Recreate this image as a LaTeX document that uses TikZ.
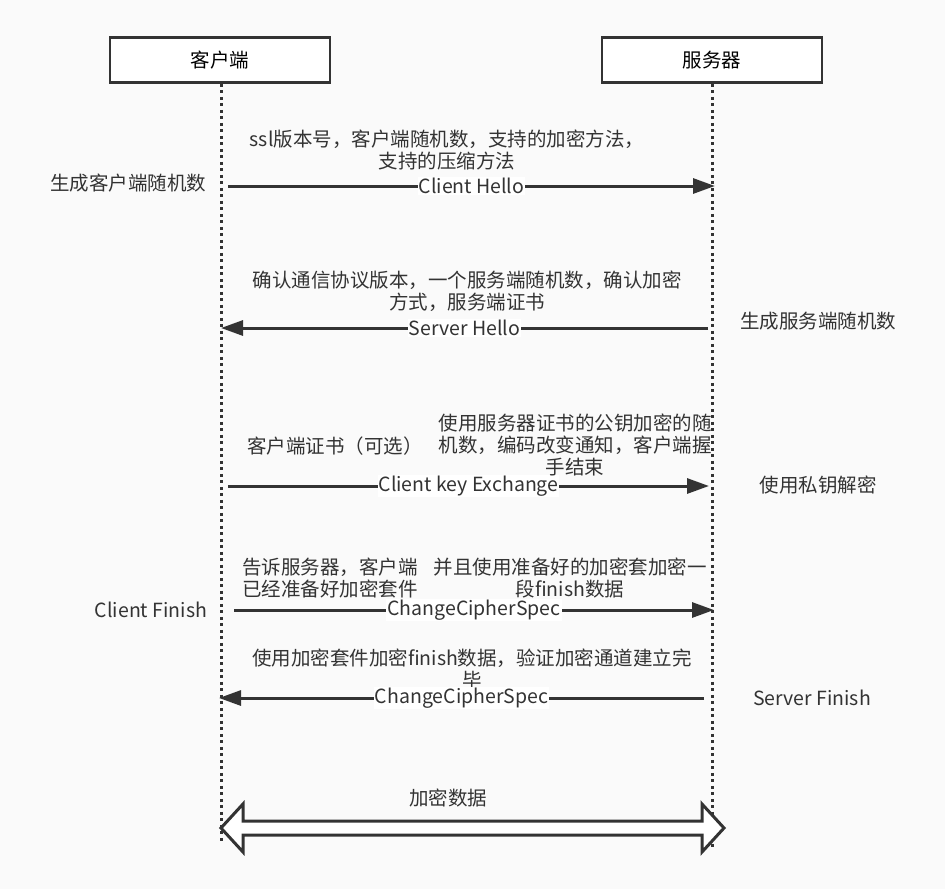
\documentclass[tikz,border=0pt]{standalone}
\usepackage{fontspec}
\setmainfont{Noto Sans CJK SC}
\usetikzlibrary{arrows.meta, calc}

\definecolor{ink}{RGB}{51,51,51}
\definecolor{paper}{RGB}{250,250,250}

\tikzset{
  actor/.style={draw=ink, line width=2.5pt, fill=white, minimum width=220pt, minimum height=45pt, inner sep=0pt},
  lifeline/.style={draw=ink, line width=3pt, dash pattern=on 3pt off 3.5pt},
  msg/.style={draw=ink, line width=3pt, -{Triangle[length=22pt,width=15pt]}},
  msglabel/.style={fill=white, inner sep=1pt, text=ink},
  note/.style={text=ink, align=center},
  bigarrow/.style={draw=ink, line width=3pt, fill=white, line join=miter},
}

\begin{document}
\begin{tikzpicture}[x=1pt, y=-1pt, every node/.style={font=\fontsize{19.5}{22}\selectfont}]

    % Background and picture size
    \fill[paper] (0,0) rectangle (945,889);
    \useasboundingbox (0,0) rectangle (945,889);

    % Draw the two parties
    \node[actor] (client) at (220,60) {客户端};
    \node[actor] (server) at (712,60) {服务器};

    % Draw the lifelines
    \coordinate (cend) at (221,842);
    \coordinate (send) at (712,850);
    \draw[lifeline] (client.south -| cend) -- (cend);
    \draw[lifeline] (server.south -| send) -- (send);

    % Client Hello
    \coordinate (c1) at (228,186);
    \coordinate (s1) at (715,186);
    \draw[msg] (c1) -- (s1) node[midway, msglabel] (hello) {Client Hello};
    \node[note] (t1) at (447,150) {ssl版本号，客户端随机数，支持的加密方法，\\支持的压缩方法};
    \node[note] (l1) at (128,183) {生成客户端随机数};

    % Server Hello
    \coordinate (s2) at (708,328);
    \coordinate (c2) at (221,328);
    \draw[msg] (s2) -- (c2) node[midway, msglabel] (shello) {Server Hello};
    \node[note] (t2) at (467,291) {确认通信协议版本，一个服务端随机数，确认加密\\方式，服务端证书};
    \node[note] (r2) at (818,321) {生成服务端随机数};

    % Client key Exchange
    \coordinate (c3) at (228,486);
    \coordinate (s3) at (709,486);
    \draw[msg] (c3) -- (s3) node[midway, msglabel] (ckex) {Client key Exchange};
    \node[note] (t3a) at (335,446) {客户端证书（可选）};
    \node[note] (t3b) at (575,445) {使用服务器证书的公钥加密的随\\机数，编码改变通知，客户端握\\手结束};
    \node[note] (r3) at (818,485) {使用私钥解密};

    % ChangeCipherSpec from the client
    \coordinate (c4) at (234,610);
    \coordinate (s4) at (714,610);
    \draw[msg] (c4) -- (s4) node[midway, msglabel] (ccs1) {ChangeCipherSpec};
    \node[note] (t4a) at (330,578) {告诉服务器，客户端\\已经准备好加密套件};
    \node[note] (t4b) at (570,578) {并且使用准备好的加密套加密一\\段finish数据};
    \node[note] (l4) at (151,610) {Client Finish};

    % ChangeCipherSpec from the server (its label covers the last line)
    \node[note] (t5) at (472,669) {使用加密套件加密finish数据，验证加密通道建立完\\毕};
    \coordinate (s5) at (704,698);
    \coordinate (c5) at (219,698);
    \draw[msg] (s5) -- (c5) node[midway, msglabel] (ccs2) {ChangeCipherSpec};
    \node[note] (r5) at (812,698) {Server Finish};

    % Encrypted data in both directions
    \coordinate (cdata) at (221,828);
    \coordinate (sdata) at (724,828);
    \draw[bigarrow] (cdata) -- ++(22,-24) -- ++(0,17) -- ($(sdata)+(-22,-7)$) -- ++(0,-17) -- (sdata)
        -- ++(-22,24) -- ++(0,-17) -- ($(cdata)+(22,7)$) -- ++(0,17) -- cycle;
    \node[note] (data) at (448,798) {加密数据};

\end{tikzpicture}
\end{document}
